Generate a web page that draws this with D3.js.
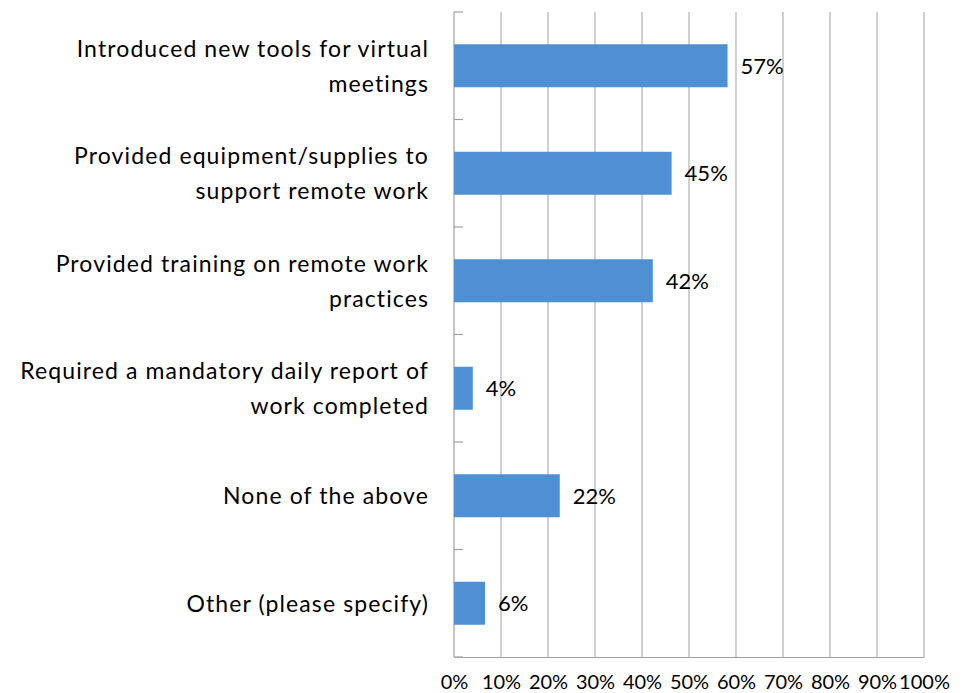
<!DOCTYPE html>
<html>
<head>
<meta charset="utf-8">
<script src="https://cdn.jsdelivr.net/npm/d3@7"></script>
<style>
  body { margin: 0; background: #fff; }
  svg text { font-family: Lato, "Open Sans", sans-serif; fill: #000; }
</style>
</head>
<body>
<div id="chart"></div>
<script>
// Categories ("\n" marks where the label wraps)
const categories = [
    "Introduced new tools for virtual\nmeetings",
    "Provided equipment/supplies to\nsupport remote work",
    "Provided training on remote work\npractices",
    "Required a mandatory daily report of\nwork completed",
    "None of the above",
    "Other (please specify)"
];
// bar lengths (percent)
const values = [58.2, 46.3, 42.3, 4.0, 22.5, 6.6];
// data labels as printed next to the bars
const valueLabels = ["57%", "45%", "42%", "4%", "22%", "6%"];
const xTicks = [0, 10, 20, 30, 40, 50, 60, 70, 80, 90, 100];

const width = 962, height = 693;
const margin = { top: 12, right: 38, bottom: 36, left: 454 };

const data = categories.map((c, i) => ({ cat: c, value: values[i], label: valueLabels[i] }));

const svg = d3.select("#chart")
    .append("svg")
    .attr("width", width)
    .attr("height", height);

const x = d3.scaleLinear()
    .domain([0, 100])
    .range([margin.left, width - margin.right]);

const y = d3.scaleBand()
    .domain(categories)
    .range([margin.top, height - margin.bottom])
    .paddingInner(0.6)
    .paddingOuter(0.3);

// vertical gridlines
svg.append("g")
    .selectAll("line")
    .data(xTicks.slice(1))
    .join("line")
    .attr("x1", d => x(d))
    .attr("x2", d => x(d))
    .attr("y1", margin.top)
    .attr("y2", height - margin.bottom)
    .attr("stroke", "#b0b0b0")
    .attr("stroke-width", 1.2);

// x axis: baseline + labels only
const xAxis = svg.append("g")
    .attr("transform", `translate(0,${height - margin.bottom})`)
    .call(d3.axisBottom(x).tickValues(xTicks).tickSize(0).tickPadding(18).tickFormat(d => d + "%"));
xAxis.select(".domain").attr("stroke", "#a0a0a0").attr("stroke-width", 1.2);
xAxis.selectAll("text")
    .style("font-family", "Lato, sans-serif")
    .style("font-size", "20px")
    .attr("fill", "#000");

// y axis: ticks at band boundaries pointing into the plot
const step = y.step();
const boundaries = d3.range(categories.length + 1).map(i => y(categories[0]) - step * 0.3 + i * step);
svg.append("line")
    .attr("x1", x(0)).attr("x2", x(0))
    .attr("y1", margin.top).attr("y2", height - margin.bottom)
    .attr("stroke", "#a0a0a0")
    .attr("stroke-width", 1.2);
svg.append("g")
    .selectAll("line")
    .data(boundaries)
    .join("line")
    .attr("x1", x(0))
    .attr("x2", x(0) + 9)
    .attr("y1", d => d)
    .attr("y2", d => d)
    .attr("stroke", "#a0a0a0")
    .attr("stroke-width", 1.2);

// bars
svg.append("g")
    .selectAll("rect")
    .data(data)
    .join("rect")
    .attr("x", x(0))
    .attr("y", d => y(d.cat))
    .attr("width", d => x(d.value) - x(0))
    .attr("height", y.bandwidth())
    .attr("fill", "#4f8fd4");

// value labels
svg.append("g")
    .selectAll("text")
    .data(data)
    .join("text")
    .attr("x", d => x(d.value) + 13)
    .attr("y", d => y(d.cat) + y.bandwidth() / 2)
    .attr("dy", "0.36em")
    .style("font-size", "22px")
    .text(d => d.label);

// category labels (right aligned, wrapped)
const lineGap = 35;
const catLabels = svg.append("g")
    .selectAll("text")
    .data(data)
    .join("text")
    .attr("text-anchor", "end")
    .style("font-size", "23px")
    .style("letter-spacing", "1.1px")
    .attr("transform", d => `translate(${x(0) - 25},${y(d.cat) + y.bandwidth() / 2})`);

catLabels.each(function (d) {
    const lines = d.cat.split("\n");
    const offset = -(lines.length - 1) * lineGap / 2;
    d3.select(this).selectAll("tspan")
        .data(lines)
        .join("tspan")
        .attr("x", 0)
        .attr("y", (l, i) => offset + i * lineGap)
        .attr("dy", "0.36em")
        .text(l => l);
});
</script>
</body>
</html>
